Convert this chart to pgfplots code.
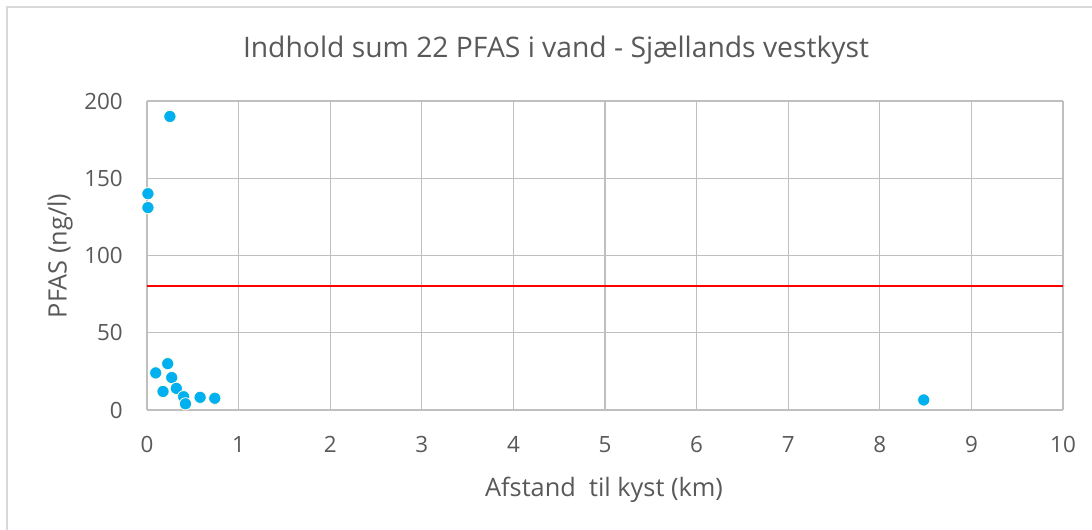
\documentclass[border=0pt]{standalone}
\usepackage{pgfplots}
\pgfplotsset{compat=1.18}
\usepackage{fontspec}
\setmainfont{Open Sans}
\definecolor{txt}{HTML}{595959}
\definecolor{grid}{HTML}{D9D9D9}
\definecolor{axl}{HTML}{BFBFBF}
\definecolor{dot}{HTML}{00B0F0}
\begin{document}
\begin{tikzpicture}[x=0.75pt,y=0.75pt]
\useasboundingbox (0,0) rectangle (1092,530);
\fill[white] (0,0) rectangle (1092,530);
\draw[grid, line width=1.5pt] (7,0) -- (7,523) -- (1092,523);
\begin{axis}[
  at={(147*0.75pt,120*0.75pt)}, anchor=south west,
  scale only axis, width=687pt, height=231.75pt,
  xmin=0, xmax=10, ymin=0, ymax=200,
  xtick={0,1,...,10}, ytick={0,50,...,200},
  grid=major, major grid style={grid, line width=0.9pt},
  axis line style={axl, line width=1.2pt},
  axis x line*=bottom, axis y line*=left,
  x axis line style={-}, y axis line style={-},
  major tick length=0pt,
  tick style={draw=none},
  /pgf/number format/assume math mode=true,
  ticklabel style={font=\fontsize{16.8pt}{18pt}\selectfont, text=txt, inner sep=0pt},
  xticklabel style={anchor=north, yshift=-19.5pt},
  yticklabel style={anchor=east, xshift=-18pt},
  clip=false,
]
\addplot[red, line width=1.5pt, forget plot] coordinates {(0,80) (10,80)};
\addplot[only marks, mark=*, mark size=4.6pt, mark options={fill=dot, draw=white!90!yellow, line width=0.6pt}] coordinates {
(0.25,190) (0.01,140) (0.01,131) (0.226,30) (0.095,24) (0.27,21) (0.32,14) (0.175,12) (0.40,8.6) (0.42,4) (0.58,8.2) (0.74,7.6) (8.48,6.5)
};
\end{axis}
\node[text=txt, font=\fontsize{21.2pt}{24pt}\selectfont] at (556,480) {Indhold sum 22 PFAS i vand - Sjællands vestkyst};
\node[text=txt, font=\fontsize{19pt}{22pt}\selectfont] at (604,40) {Afstand\ \ til kyst (km)};
\node[text=txt, font=\fontsize{19pt}{22pt}\selectfont, rotate=90] at (60,274) {PFAS (ng/l)};
\end{tikzpicture}
\end{document}
